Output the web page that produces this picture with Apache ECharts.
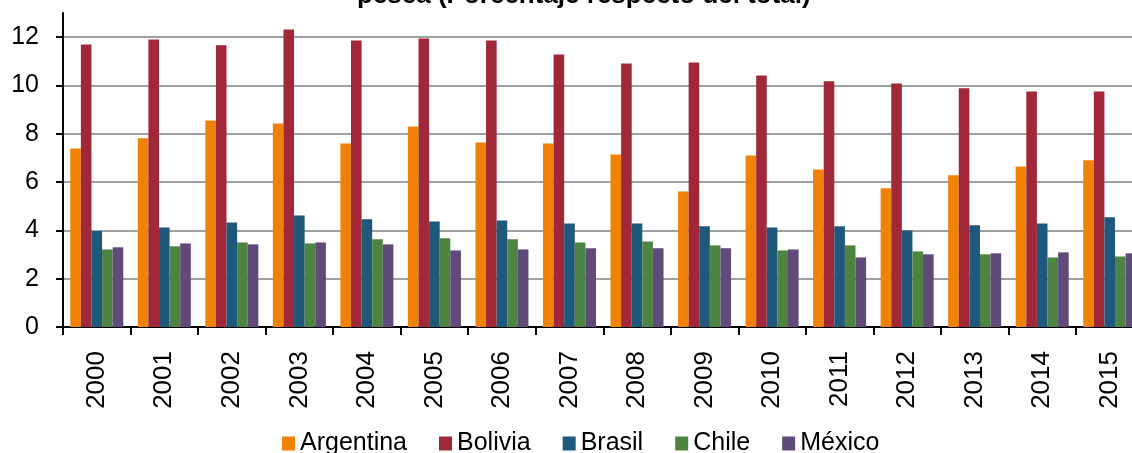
<!DOCTYPE html>
<html>
<head>
<meta charset="utf-8">
<script src="https://cdn.jsdelivr.net/npm/echarts@6/dist/echarts.min.js"></script>
<style>
  html, body { margin: 0; padding: 0; background: #fff; }
  #chart { width: 1132px; height: 453px; }
</style>
</head>
<body>
<div id="chart"></div>
<script>
// Years on the category axis
const years = ['2000','2001','2002','2003','2004','2005','2006','2007',
               '2008','2009','2010','2011','2012','2013','2014','2015'];

// Share of the total, per country (%)
const argentina = [7.39, 7.81, 8.55, 8.43, 7.60, 8.30, 7.64, 7.60, 7.14, 5.61, 7.10, 6.52, 5.74, 6.28, 6.65, 6.90];
const bolivia   = [11.70, 11.90, 11.66, 12.32, 11.86, 11.94, 11.86, 11.28, 10.91, 10.95, 10.41, 10.17, 10.08, 9.88, 9.75, 9.75];
const brasil    = [3.97, 4.12, 4.33, 4.62, 4.46, 4.37, 4.41, 4.29, 4.29, 4.17, 4.12, 4.17, 4.00, 4.21, 4.29, 4.54];
const chile     = [3.21, 3.34, 3.50, 3.46, 3.63, 3.67, 3.63, 3.50, 3.54, 3.38, 3.17, 3.38, 3.13, 3.01, 2.88, 2.92];
const mexico    = [3.30, 3.46, 3.42, 3.50, 3.42, 3.17, 3.21, 3.26, 3.26, 3.26, 3.21, 2.88, 3.01, 3.05, 3.09, 3.05];

const countryNames = ['Argentina', 'Bolivia', 'Brasil', 'Chile', 'México'];
const countryData  = [argentina, bolivia, brasil, chile, mexico];
const countryColors = ['#F08208', '#A12838', '#1E587A', '#4E8441', '#604A7A'];

// Value-axis tick values
const yTicks = [0, 2, 4, 6, 8, 10, 12];

const FONT = '"Liberation Sans", Arial, sans-serif';
const gridGrey = '#a0a0a0';

const chart = echarts.init(document.getElementById('chart'), null, { renderer: 'canvas' });

chart.setOption({
  animation: false,
  backgroundColor: '#ffffff',
  color: countryColors,
  title: {
    text: 'pesca (Porcentaje respecto del total)',
    left: 352,
    top: -22,
    textStyle: { fontFamily: FONT, fontSize: 26, fontWeight: 'bold', color: '#000' }
  },
  legend: {
    data: countryNames,
    left: 277,
    top: 426,
    itemWidth: 13,
    itemHeight: 14,
    itemGap: 32,
    icon: 'rect',
    textStyle: { fontFamily: FONT, fontSize: 25, color: '#000' }
  },
  grid: {
    left: 63,
    width: 1080.5,
    top: 13,
    bottom: 126,
    containLabel: false,
    outerBoundsMode: 'none'
  },
  xAxis: {
    type: 'category',
    data: years,
    boundaryGap: true,
    axisLine: { lineStyle: { color: '#000', width: 2 } },
    axisTick: { show: true, alignWithLabel: false, length: 8, lineStyle: { color: '#000', width: 2 } },
    axisLabel: {
      rotate: 90,
      margin: 24,
      interval: 0,
      fontFamily: FONT,
      fontSize: 26,
      color: '#000'
    },
    splitLine: { show: false }
  },
  yAxis: {
    type: 'value',
    min: 0,
    max: 13,
    interval: 2,
    axisLine: { show: true, lineStyle: { color: '#000', width: 2 } },
    axisTick: { show: true, length: 7, customValues: yTicks, lineStyle: { color: '#000', width: 2 } },
    axisLabel: {
      margin: 24,
      fontFamily: FONT,
      fontSize: 25,
      color: '#000',
      customValues: yTicks,
      formatter: v => (yTicks.indexOf(v) >= 0 ? String(v) : '')
    },
    splitLine: {
      show: true,
      lineStyle: {
        color: [gridGrey, gridGrey, gridGrey, gridGrey, gridGrey, gridGrey, gridGrey, 'rgba(0,0,0,0)'],
        width: 2
      }
    }
  },
  series: countryNames.map((name, i) => ({
    name: name,
    type: 'bar',
    data: countryData[i],
    barGap: '0%',
    barCategoryGap: '21.5%',
    itemStyle: { color: countryColors[i] }
  }))
});
</script>
</body>
</html>
